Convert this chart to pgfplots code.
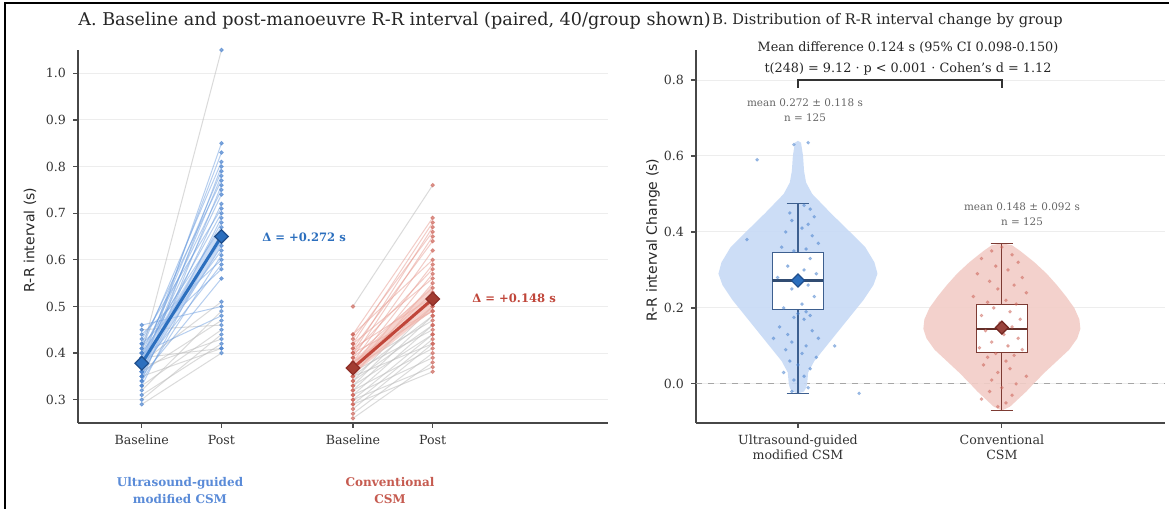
\documentclass[border=0pt]{standalone}
\usepackage{pgfplots}
\pgfplotsset{compat=1.18}
\usepackage{pgfplotstable}
\usepackage{fontspec}
\setmainfont{DejaVu Serif}
\newfontfamily\sansf{DejaVu Sans}

\definecolor{blueMain}{HTML}{2C6FBE}
\definecolor{blueDark}{HTML}{1F4E8C}
\definecolor{blueLine}{HTML}{6E9FE0}
\definecolor{bluePt}{HTML}{4F86D0}
\definecolor{blueBand}{HTML}{A9C6EF}
\definecolor{blueViolin}{HTML}{C7DAF6}
\definecolor{blueBox}{HTML}{3D5F8F}
\definecolor{blueLab}{HTML}{5A8BD8}
\definecolor{redMain}{HTML}{C0463A}
\definecolor{redDark}{HTML}{8E2F28}
\definecolor{redLine}{HTML}{E79A90}
\definecolor{redPt}{HTML}{CF6A5F}
\definecolor{redBand}{HTML}{F1B7AE}
\definecolor{redViolin}{HTML}{F2CDC7}
\definecolor{redBox}{HTML}{7D3B33}
\definecolor{redLab}{HTML}{C65B50}
\definecolor{pairGray}{HTML}{BDBDBD}
\definecolor{txtGray}{HTML}{666666}

% panel A: paired baseline / post values, 40 per group
\pgfplotstableread{
b p
0.36 0.85
0.38 0.83
0.41 0.81
0.35 0.80
0.39 0.79
0.37 0.78
0.42 0.77
0.34 0.76
0.40 0.75
0.38 0.74
0.36 0.72
0.43 0.71
0.39 0.70
0.35 0.69
0.37 0.68
0.41 0.67
0.33 0.66
0.38 0.65
0.40 0.64
0.36 0.63
0.39 0.62
0.34 0.61
0.44 0.60
0.37 0.59
0.42 0.58
0.35 0.56
0.46 0.50
0.40 0.48
}\gaCol
\pgfplotstableread{
b p
0.40 1.05
0.38 0.51
0.32 0.49
0.36 0.47
0.45 0.46
0.33 0.45
0.37 0.43
0.31 0.42
0.39 0.41
0.29 0.40
0.35 0.41
0.30 0.44
}\gaGray
\pgfplotstableread{
b p
0.44 0.69
0.42 0.68
0.40 0.67
0.43 0.66
0.39 0.65
0.41 0.64
0.38 0.62
0.44 0.60
0.37 0.59
0.40 0.58
0.36 0.57
0.42 0.56
0.35 0.55
0.39 0.54
0.37 0.53
0.41 0.52
0.38 0.51
0.36 0.50
0.40 0.49
0.38 0.49
}\gbCol
\pgfplotstableread{
b p
0.50 0.76
0.34 0.52
0.33 0.50
0.35 0.48
0.32 0.48
0.37 0.47
0.34 0.46
0.31 0.46
0.36 0.45
0.30 0.44
0.33 0.44
0.29 0.43
0.35 0.42
0.28 0.42
0.32 0.41
0.27 0.40
0.31 0.39
0.26 0.38
0.30 0.37
0.29 0.36
}\gbGray

\begin{document}
\begin{tikzpicture}
\useasboundingbox (0,0) rectangle (584.5pt,254.5pt);
\fill[white] (0,0) rectangle (584.5pt,254.5pt);

% ---------------- panel A ----------------
\begin{axis}[
  at={(39pt,43pt)}, anchor=south west, scale only axis,
  width=265pt, height=186.5pt,
  xmin=-0.8, xmax=5.85, ymin=0.25, ymax=1.05,
  axis x line*=bottom, axis y line*=left,
  axis line style={-, draw=black!72, line width=0.75pt},
  xtick={0,1,2.65,3.65}, xticklabels={Baseline,Post,Baseline,Post},
  ytick={0.3,0.4,0.5,0.6,0.7,0.8,0.9,1.0},
  yticklabels={0.3,0.4,0.5,0.6,0.7,0.8,0.9,1.0},
  tick align=outside, major tick length=2.5pt,
  tick style={black!70, line width=0.6pt},
  tick label style={font=\fontsize{6.3}{7}\selectfont, text=black!80},
  ymajorgrids, grid style={black!7, line width=0.5pt},
]
% individual pairs
\addplot[pairGray, opacity=0.55, line width=0.5pt, quiver={u=1, v=\thisrow{p}-\thisrow{b}}] table[x expr=0, y=b] {\gaGray};
\addplot[blueLine, opacity=0.5, line width=0.5pt, quiver={u=1, v=\thisrow{p}-\thisrow{b}}] table[x expr=0, y=b] {\gaCol};
\addplot[pairGray, opacity=0.55, line width=0.5pt, quiver={u=1, v=\thisrow{p}-\thisrow{b}}] table[x expr=2.65, y=b] {\gbGray};
\addplot[redLine, opacity=0.5, line width=0.5pt, quiver={u=1, v=\thisrow{p}-\thisrow{b}}] table[x expr=2.65, y=b] {\gbCol};
% points
\addplot[only marks, mark=*, mark size=0.9pt, bluePt, opacity=0.65] table[x expr=0, y=b] {\gaCol};
\addplot[only marks, mark=*, mark size=0.9pt, bluePt, opacity=0.65] table[x expr=0, y=b] {\gaGray};
\addplot[only marks, mark=*, mark size=0.9pt, bluePt, opacity=0.65] table[x expr=1, y=p] {\gaCol};
\addplot[only marks, mark=*, mark size=0.9pt, bluePt, opacity=0.65] table[x expr=1, y=p] {\gaGray};
\addplot[only marks, mark=*, mark size=0.9pt, redPt, opacity=0.65] table[x expr=2.65, y=b] {\gbCol};
\addplot[only marks, mark=*, mark size=0.9pt, redPt, opacity=0.65] table[x expr=2.65, y=b] {\gbGray};
\addplot[only marks, mark=*, mark size=0.9pt, redPt, opacity=0.65] table[x expr=3.65, y=p] {\gbCol};
\addplot[only marks, mark=*, mark size=0.9pt, redPt, opacity=0.65] table[x expr=3.65, y=p] {\gbGray};
% CI bands
\addplot[fill=blueBand, draw=none, opacity=0.6] coordinates {(0,0.362) (1,0.628) (1,0.672) (0,0.394)} -- cycle;
\addplot[fill=redBand, draw=none, opacity=0.6] coordinates {(2.65,0.354) (3.65,0.492) (3.65,0.545) (2.65,0.382)} -- cycle;
% group means
\addplot[blueMain, line width=1.5pt, mark=square*, mark size=2.4pt,
  mark options={rotate=45, fill=blueMain, draw=blueDark, line width=0.6pt}] coordinates {(0,0.378) (1,0.650)};
\addplot[redMain, line width=1.5pt, mark=square*, mark size=2.4pt,
  mark options={rotate=45, fill=redMain!85!black, draw=redDark, line width=0.6pt}] coordinates {(2.65,0.368) (3.65,0.516)};
\end{axis}

% ---------------- panel B ----------------
\begin{axis}[
  at={(348pt,43pt)}, anchor=south west, scale only axis,
  width=234.5pt, height=186.5pt,
  xmin=-0.5, xmax=1.8, ymin=-0.103, ymax=0.879,
  axis x line*=bottom, axis y line*=left,
  axis line style={-, draw=black!72, line width=0.75pt},
  xtick={0,1},
  xticklabels={{Ultrasound-guided\\modified CSM},{Conventional\\CSM}},
  xticklabel style={align=center},
  ytick={0,0.2,0.4,0.6,0.8},
  yticklabels={0.0,0.2,0.4,0.6,0.8},
  tick align=outside, major tick length=2.5pt,
  tick style={black!70, line width=0.6pt},
  tick label style={font=\fontsize{6.3}{7.6}\selectfont, text=black!80},
  ymajorgrids, grid style={black!7, line width=0.5pt},
]
\addplot[black!35, dashed, line width=0.6pt] coordinates {(-0.5,0) (1.8,0)};
% violins
\addplot[fill=blueViolin, draw=none, opacity=0.9] coordinates {
 (0.0,-0.025)(0.03,-0.02)(0.04,-0.01)(0.045,0)(0.05,0.03)(0.08,0.06)(0.14,0.10)
 (0.20,0.14)(0.26,0.18)(0.32,0.22)(0.37,0.26)(0.39,0.29)(0.375,0.32)(0.33,0.36)
 (0.255,0.40)(0.16,0.45)(0.07,0.50)(0.04,0.53)(0.03,0.56)(0.025,0.60)(0.015,0.635)(0,0.64)
 (-0.015,0.635)(-0.025,0.60)(-0.03,0.56)(-0.04,0.53)(-0.07,0.50)(-0.16,0.45)(-0.255,0.40)
 (-0.33,0.36)(-0.375,0.32)(-0.39,0.29)(-0.37,0.26)(-0.32,0.22)(-0.26,0.18)(-0.20,0.14)
 (-0.14,0.10)(-0.08,0.06)(-0.05,0.03)(-0.045,0)(-0.04,-0.01)(-0.03,-0.02)} -- cycle;
\addplot[fill=redViolin, draw=none, opacity=0.9] coordinates {
 (1,-0.07)(1.04,-0.06)(1.08,-0.04)(1.12,-0.02)(1.155,0)(1.21,0.03)(1.27,0.06)(1.33,0.09)
 (1.37,0.12)(1.385,0.145)(1.38,0.17)(1.355,0.20)(1.315,0.23)(1.27,0.26)(1.22,0.29)
 (1.16,0.32)(1.09,0.35)(1.05,0.365)(1,0.37)
 (0.95,0.365)(0.91,0.35)(0.84,0.32)(0.78,0.29)(0.73,0.26)(0.685,0.23)(0.645,0.20)
 (0.62,0.17)(0.615,0.145)(0.63,0.12)(0.67,0.09)(0.73,0.06)(0.79,0.03)(0.845,0)
 (0.88,-0.02)(0.92,-0.04)(0.96,-0.06)} -- cycle;
% jittered observations
\addplot[only marks, mark=*, mark size=0.7pt, bluePt, opacity=0.45] coordinates {
 (-0.02,0.63)(0.05,0.635)(-0.2,0.59)(0.03,0.47)(0.06,0.46)(-0.04,0.45)(0.08,0.44)
 (-0.03,0.43)(0.05,0.42)(0.02,0.41)(-0.25,0.38)(-0.06,0.40)(0.07,0.39)(0.1,0.37)
 (-0.08,0.36)(0.04,0.355)(-0.02,0.35)(0.06,0.33)(-0.05,0.31)(0.03,0.30)(0.09,0.29)
 (-0.1,0.28)(0.05,0.26)(-0.03,0.25)(0.08,0.23)(0.02,0.21)(-0.07,0.2)(0.04,0.19)
 (0.0,0.185)(0.06,0.18)(-0.02,0.175)(0.03,0.17)(-0.09,0.15)(0.07,0.14)(-0.05,0.13)
 (-0.12,0.12)(0.1,0.12)(-0.03,0.11)(0.04,0.1)(0.18,0.1)(-0.06,0.09)(0.02,0.08)
 (0.09,0.07)(-0.04,0.06)(0.0,0.05)(0.06,0.04)(-0.07,0.03)(0.03,0.02)(-0.02,0.01)
 (0.05,-0.01)(0.3,-0.025)(-0.03,-0.02)};
\addplot[only marks, mark=*, mark size=0.7pt, redPt, opacity=0.45] coordinates {
 (1.0,0.36)(0.95,0.35)(1.05,0.34)(0.9,0.33)(1.08,0.32)(0.97,0.31)(1.03,0.30)(0.88,0.29)
 (1.1,0.28)(0.94,0.27)(1.06,0.26)(0.98,0.25)(1.12,0.24)(0.86,0.23)(1.02,0.22)(0.93,0.215)
 (1.07,0.21)(0.96,0.2)(1.04,0.19)(0.9,0.18)(1.09,0.17)(0.99,0.16)(1.05,0.15)(0.92,0.14)
 (1.01,0.13)(1.08,0.12)(0.95,0.11)(1.03,0.1)(0.89,0.095)(1.1,0.09)(0.97,0.08)(1.06,0.075)
 (0.93,0.07)(1.02,0.06)(0.91,0.05)(1.04,0.04)(0.98,0.03)(1.12,0.02)(0.95,0.01)(1.07,0.0)
 (1.0,-0.01)(0.94,-0.02)(1.05,-0.03)(0.9,-0.04)(1.02,-0.05)(0.98,-0.06)};
% whiskers and caps
\addplot[blueBox, line width=0.6pt] coordinates {(0,-0.025) (0,0.475)};
\addplot[blueBox, line width=0.6pt] coordinates {(-0.055,0.475) (0.055,0.475)};
\addplot[blueBox, line width=0.6pt] coordinates {(-0.055,-0.025) (0.055,-0.025)};
\addplot[redBox, line width=0.6pt] coordinates {(1,-0.07) (1,0.37)};
\addplot[redBox, line width=0.6pt] coordinates {(0.945,0.37) (1.055,0.37)};
\addplot[redBox, line width=0.6pt] coordinates {(0.945,-0.07) (1.055,-0.07)};
% boxes
\addplot[fill=white, draw=blueBox, line width=0.6pt] coordinates {(-0.125,0.195) (0.125,0.195) (0.125,0.345) (-0.125,0.345)} -- cycle;
\addplot[fill=white, draw=redBox, line width=0.6pt] coordinates {(0.875,0.082) (1.125,0.082) (1.125,0.21) (0.875,0.21)} -- cycle;
\addplot[blueBox!80!black, line width=1.2pt] coordinates {(-0.125,0.272) (0.125,0.272)};
\addplot[redBox!80!black, line width=1.2pt] coordinates {(0.875,0.145) (1.125,0.145)};
% means
\addplot[only marks, mark=square*, mark size=2.3pt, mark options={rotate=45, fill=blueMain, draw=blueDark, line width=0.6pt}] coordinates {(0,0.272)};
\addplot[only marks, mark=square*, mark size=2.3pt, mark options={rotate=45, fill=redDark!90, draw=redDark!80!black, line width=0.6pt}] coordinates {(1,0.148)};
% significance bracket
\addplot[black!80, line width=0.8pt] coordinates {(0,0.78) (0,0.80) (1,0.80) (1,0.78)};
\end{axis}

% ---------------- text (pixel units) ----------------
\begin{scope}[x=0.5pt,y=0.5pt]
\node[anchor=west, inner sep=0pt, font=\fontsize{8.8}{10}\selectfont, text=black!85] at (78,488) {A. Baseline and post-manoeuvre R-R interval (paired, 40/group shown)};
\node[anchor=east, inner sep=0pt, font=\fontsize{7.3}{9}\selectfont, text=black!85] at (1063,488) {B. Distribution of R-R interval change by group};
\node[rotate=90, font=\sansf\fontsize{7}{8}\selectfont, text=black!85] at (30,269) {R-R interval (s)};
\node[rotate=90, font=\sansf\fontsize{7}{8}\selectfont, text=black!85] at (653,269) {R-R interval Change (s)};
\node[anchor=west, inner sep=0pt, font=\bfseries\fontsize{5.8}{7}\selectfont, text=blueMain] at (262,272) {Δ = +0.272 s};
\node[anchor=west, inner sep=0pt, font=\bfseries\fontsize{5.8}{7}\selectfont, text=redMain] at (472,211) {Δ = +0.148 s};
\node[align=center, font=\bfseries\fontsize{6}{8.5}\selectfont, text=blueLab] at (180,18) {Ultrasound-guided\\modified CSM};
\node[align=center, font=\bfseries\fontsize{6}{8.5}\selectfont, text=redLab] at (390,18) {Conventional\\CSM};
\node[align=center, font=\fontsize{6.4}{10.5}\selectfont, text=black!85] at (908,451) {Mean difference 0.124 s (95\% CI 0.098-0.150)\\t(248) = 9.12 · p < 0.001 · Cohen's d = 1.12};
\node[align=center, font=\fontsize{5.2}{7.5}\selectfont, text=txtGray] at (805,399) {mean 0.272 ± 0.118 s\\n = 125};
\node[align=center, font=\fontsize{5.2}{7.5}\selectfont, text=txtGray] at (1022,295) {mean 0.148 ± 0.092 s\\n = 125};
\draw[black, line width=1pt] (5,0) -- (5,506) -- (1169,506);
\end{scope}
\end{tikzpicture}
\end{document}
